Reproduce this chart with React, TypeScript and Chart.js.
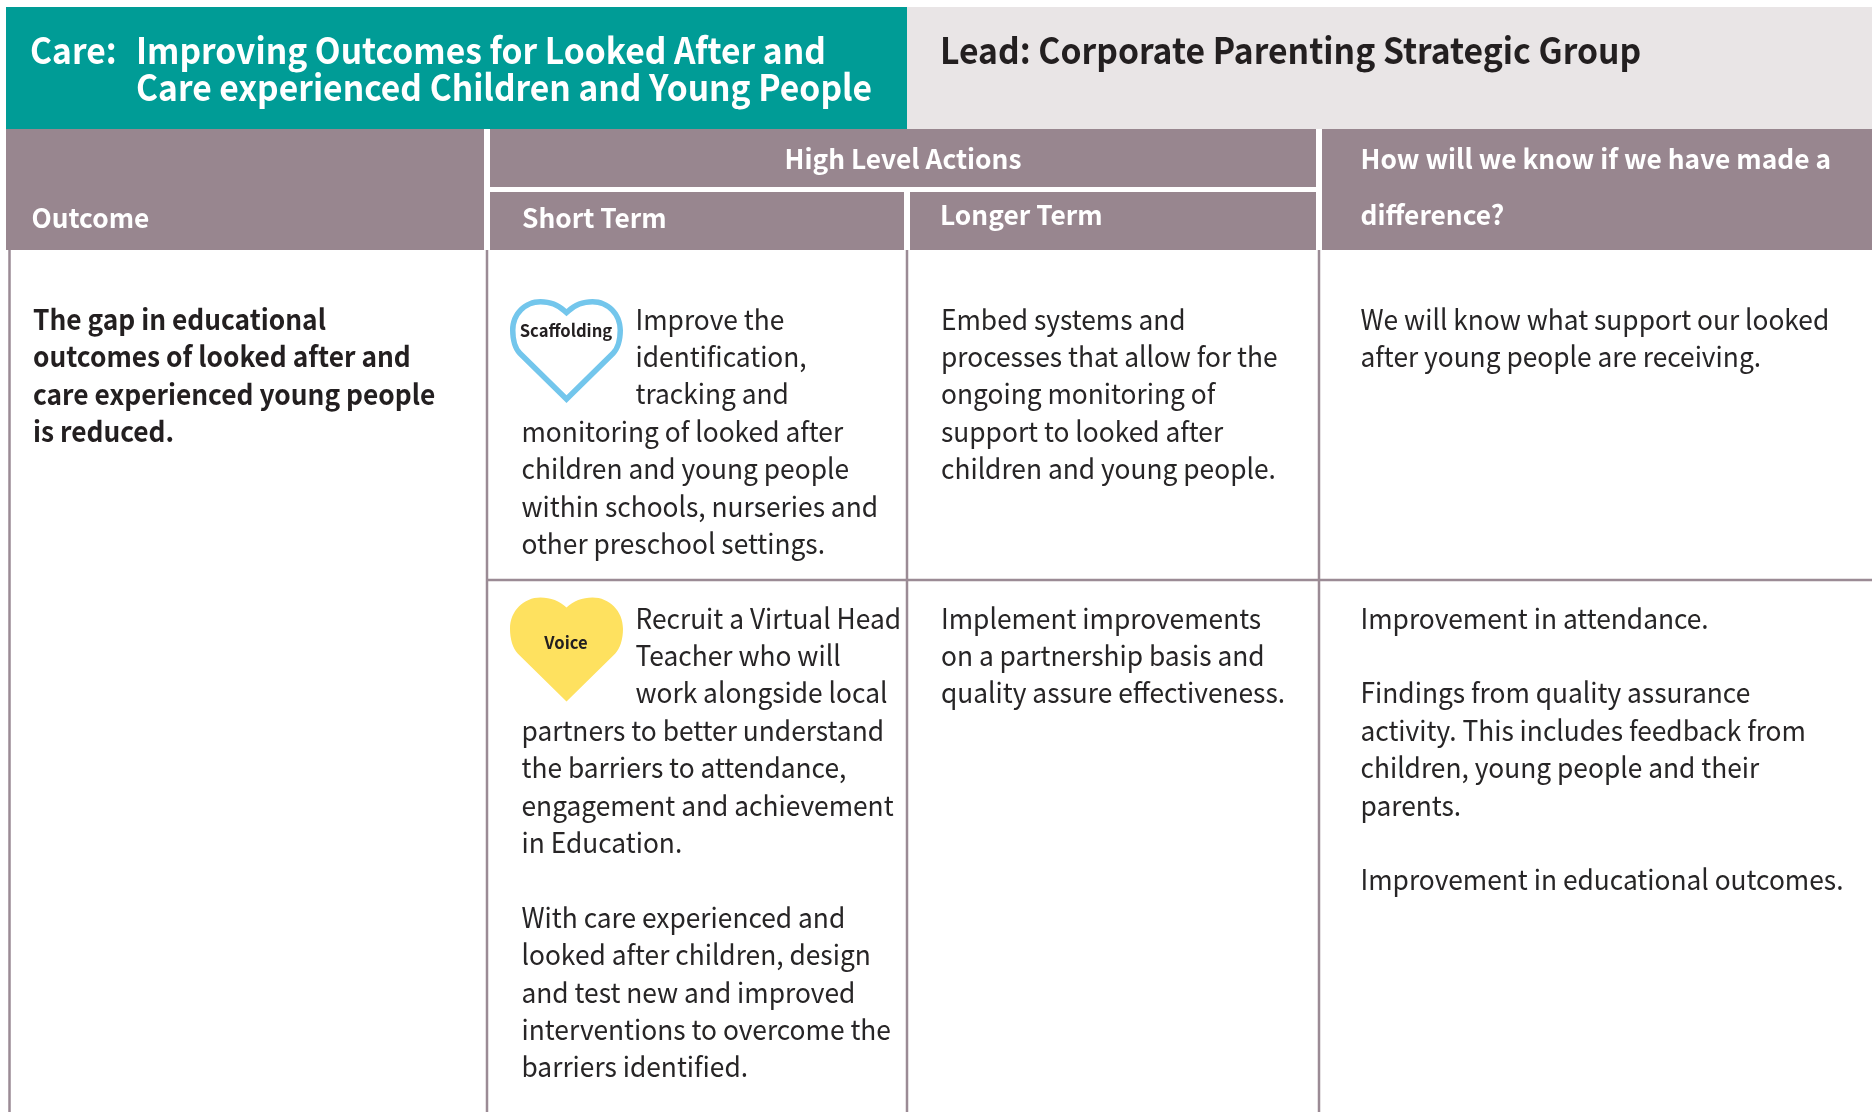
import React, { useEffect, useRef } from "react";
import { Chart, registerables } from "chart.js";

Chart.register(...registerables);

const titleCare = ["Improving Outcomes for Looked After and", "Care experienced Children and Young People"];
const titleLead = "Lead: Corporate Parenting Strategic Group";
const outcomeLines = ["The gap in educational", "outcomes of looked after and", "care experienced young people", "is reduced."];
const scaffoldingLines = ["Improve the", "identification,", "tracking and", "monitoring of looked after", "children and young people", "within schools, nurseries and", "other preschool settings."];
const voiceLines = ["Recruit a Virtual Head", "Teacher who will", "work alongside local", "partners to better understand", "the barriers to attendance,", "engagement and achievement", "in Education.", "", "With care experienced and", "looked after children, design", "and test new and improved", "interventions to overcome the", "barriers identified."];
const longerA = ["Embed systems and", "processes that allow for the", "ongoing monitoring of", "support to looked after", "children and young people."];
const longerB = ["Implement improvements", "on a partnership basis and", "quality assure effectiveness."];
const knowA = ["We will know what support our looked", "after young people are receiving."];
const knowB = ["Improvement in attendance.", "", "Findings from quality assurance", "activity. This includes feedback from", "children, young people and their", "parents.", "", "Improvement in educational outcomes."];

const FONT = '"Noto Sans CJK JP", "Noto Sans", sans-serif';
const DARK = "#231f20";
const BODY = "#272526";
const PURPLE = "#98868f";
const RULE = "#9b8b95";
const LH = 37.4;

const tablePlugin = {
  id: "table",
  beforeDatasetsDraw(chart: any) {
    const { ctx, scales } = chart;
    const X = (v: number) => scales.x.getPixelForValue(v);
    const Y = (v: number) => scales.y.getPixelForValue(v);
    const rect = (x0: number, y0: number, x1: number, y1: number, c: string) => {
      ctx.fillStyle = c;
      ctx.fillRect(X(x0), Y(y0), X(x1) - X(x0), Y(y1) - Y(y0));
    };
    rect(6, 7, 907, 129, "#009c96");
    rect(907, 7, 1872, 129, "#e9e5e6");
    rect(6, 129, 484, 250, PURPLE);
    rect(490, 129, 1316, 187, PURPLE);
    rect(490, 192, 904, 250, PURPLE);
    rect(910, 192, 1316, 250, PURPLE);
    rect(1322, 129, 1872, 250, PURPLE);
  },
  afterDatasetsDraw(chart: any) {
    const { ctx, scales } = chart;
    const X = (v: number) => scales.x.getPixelForValue(v);
    const Y = (v: number) => scales.y.getPixelForValue(v);
    ctx.save();
    ctx.textBaseline = "alphabetic";
    ctx.fontKerning = "normal";
    const text = (s: string, x: number, y: number, font: string, color: string, hs: number, align: CanvasTextAlign = "left") => {
      ctx.save();
      ctx.font = font;
      ctx.fillStyle = color;
      ctx.textAlign = align;
      ctx.translate(X(x), Y(y));
      ctx.scale(hs, 1);
      ctx.fillText(s, 0, 0);
      ctx.restore();
    };
    const heart = (y0: number) => {
      const l = 510, r = 623, h = 104;
      const p = (fx: number, fy: number): [number, number] => [X(l + (r - l) * fx), Y(y0 + h * fy)];
      ctx.beginPath();
      ctx.moveTo(...p(0.5, 1));
      ctx.lineTo(...p(0.07, 0.54));
      ctx.bezierCurveTo(...p(0.025, 0.49), ...p(0, 0.4), ...p(0, 0.3));
      ctx.bezierCurveTo(...p(0, 0.13), ...p(0.12, 0), ...p(0.27, 0));
      ctx.bezierCurveTo(...p(0.36, 0), ...p(0.44, 0.035), ...p(0.5, 0.095));
      ctx.bezierCurveTo(...p(0.56, 0.035), ...p(0.64, 0), ...p(0.73, 0));
      ctx.bezierCurveTo(...p(0.88, 0), ...p(1, 0.13), ...p(1, 0.3));
      ctx.bezierCurveTo(...p(1, 0.4), ...p(0.975, 0.49), ...p(0.93, 0.54));
      ctx.closePath();
    };
    // hearts
    heart(597.5);
    ctx.fillStyle = "#fee15f";
    ctx.fill();
    ctx.save();
    heart(299);
    ctx.clip();
    heart(299);
    ctx.strokeStyle = "#73c6ec";
    ctx.lineWidth = 11;
    ctx.lineJoin = "miter";
    ctx.stroke();
    ctx.restore();
    text("Scaffolding", 566, 336.5, `700 17.5px ${FONT}`, DARK, 0.95, "center");
    text("Voice", 566, 648.5, `700 17.5px ${FONT}`, DARK, 0.95, "center");

    // headers
    const h1 = `700 36px ${FONT}`;
    const hs1 = 0.933;
    text("Care:", 30, 63.5, h1, "#ffffff", hs1);
    text(titleCare[0], 136, 63.5, h1, "#ffffff", hs1);
    text(titleCare[1], 136, 100.5, h1, "#ffffff", hs1);
    text(titleLead, 940, 63.5, h1, DARK, 0.936);
    const h2 = `700 27px ${FONT}`;
    const hs2 = 0.975;
    text("Outcome", 31.5, 228, h2, "#ffffff", hs2);
    text("High Level Actions", 903, 169, h2, "#ffffff", hs2, "center");
    text("Short Term", 522, 228, h2, "#ffffff", hs2);
    text("Longer Term", 940, 225, h2, "#ffffff", hs2);
    text("How will we know if we have made a", 1360.5, 169, h2, "#ffffff", hs2);
    text("difference?", 1360.5, 225, h2, "#ffffff", hs2);

    // body
    const bd = `400 28px ${FONT}`;
    const bb = `700 28px ${FONT}`;
    const hsb = 0.94;
    outcomeLines.forEach((s, i) => text(s, 33, 329.7 + i * LH, bb, DARK, hsb));
    scaffoldingLines.forEach((s, i) => text(s, i < 3 ? 635.5 : 521.5, 329.5 + i * LH, bd, BODY, hsb));
    voiceLines.forEach((s, i) => text(s, i < 3 ? 635.5 : 521.5, 628.5 + i * LH, bd, BODY, hsb));
    longerA.forEach((s, i) => text(s, 941, 329.5 + i * LH, bd, BODY, hsb));
    longerB.forEach((s, i) => text(s, 941, 628.5 + i * LH, bd, BODY, hsb));
    knowA.forEach((s, i) => text(s, 1360.5, 329.5 + i * LH, bd, BODY, hsb));
    knowB.forEach((s, i) => text(s, 1360.5, 628.5 + i * LH, bd, BODY, hsb));
    ctx.restore();
  },
};

const ruleXs = [9.5, 487, 907, 1319];
const ruleTop = 250;
const ruleBottom = 1112;
const rowRuleY = 580;
const rowRuleX = [487, 1872];

export default function App() {
  const ref = useRef<HTMLCanvasElement>(null);
  useEffect(() => {
    const rule = (data: { x: number; y: number }[]) => ({
      data,
      showLine: true,
      borderColor: RULE,
      borderWidth: 2.5,
      pointRadius: 0,
    });
    const chart = new Chart(ref.current!, {
      type: "scatter",
      data: {
        datasets: [
          ...ruleXs.map((x) => rule([{ x, y: ruleTop }, { x, y: ruleBottom }])),
          rule(rowRuleX.map((x) => ({ x, y: rowRuleY }))),
        ],
      },
      options: {
        animation: false,
        responsive: false,
        layout: { padding: 0 },
        plugins: { legend: { display: false }, tooltip: { enabled: false } },
        scales: {
          x: { type: "linear", display: false, min: 0, max: 1872 },
          y: { type: "linear", display: false, min: 0, max: 1112, reverse: true },
        },
      },
      plugins: [tablePlugin],
    });
    return () => chart.destroy();
  }, []);
  return (
    <div style={{ position: "fixed", left: 0, top: 0, width: 1872, height: 1112, background: "#ffffff" }}>
      <canvas ref={ref} width={1872} height={1112} style={{ display: "block" }} />
    </div>
  );
}
